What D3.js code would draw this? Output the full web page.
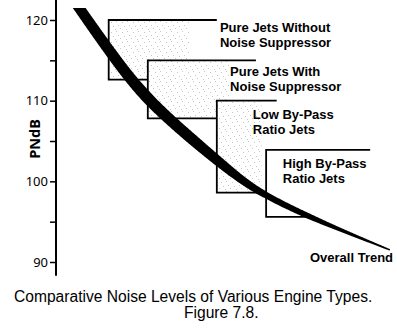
<!DOCTYPE html>
<html><head><meta charset="utf-8">
<script src="https://cdn.jsdelivr.net/npm/d3@7"></script>
<style>html,body{margin:0;padding:0;background:#fff;} svg{display:block}</style>
</head><body>
<script>
// ---------- data ----------
const yTicks = [90, 95, 100, 105, 110, 115, 120];
const yTickLabels = ["90", "", "100", "", "110", "", "120"];
const yAxisLabel = "PNdB";
const yAxisExtent = [88.3, 122.5];

const boxNames = [["Pure Jets Without", "Noise Suppressor"], ["Pure Jets With", "Noise Suppressor"], ["Low By-Pass", "Ratio Jets"], ["High By-Pass", "Ratio Jets"]];
const boxStart = [15.5, 27.0, 47.3, 61.8];
const boxTopEnd = [47.3, 58.8, 64.9, 92.4];
const boxBottomEnd = [27.0, 47.3, 61.8, 74.7];
const boxHigh = [120, 115, 110, 103.9];
const boxLow = [112.6, 107.8, 98.6, 95.6];
const boxShaded = [true, true, true, false];
const labelU = [48.2, 51.2, 57.9, 66.7];
const labelV = [118.5, 113.0, 107.7, 101.6];

const trendU = [6.8, 17.6, 26.8, 40.3, 47.4, 55.0, 61.8, 74.7, 98.2];
const trendV = [121.5, 115.0, 110.1, 105.1, 102.6, 100.0, 98.2, 95.5, 91.5];
const trendLabel = "Overall Trend";
const trendLabelPos = [74.7, 89.95];

const caption = ["Comparative Noise Levels of Various Engine Types.", "Figure 7.8."];

// ---------- drawing ----------
const W = 397, H = 330;
const svg = d3.select("body").append("svg").attr("width", W).attr("height", H);
const x = d3.scaleLinear().domain([0, 100]).range([56, 396]);
const y = d3.scaleLinear().domain([90, 120]).range([262, 20]);

const defs = svg.append("defs");
const pat = defs.append("pattern").attr("id", "stip").attr("patternUnits", "userSpaceOnUse")
  .attr("width", 11).attr("height", 10);
[[1,2],[6,1],[3,6],[8,5],[10,8],[5,9]].forEach(p => pat.append("rect").attr("x", p[0]).attr("y", p[1])
  .attr("width", 1).attr("height", 1).attr("fill", "#c6c6c6"));
defs.append("clipPath").attr("id", "topclip").append("rect")
  .attr("x", 0).attr("y", y(trendV[0])).attr("width", W).attr("height", H);

// shading
boxStart.forEach((s, i) => {
  if (!boxShaded[i]) return;
  const e = s + 0.75 * (boxTopEnd[i] - s);
  svg.append("rect").attr("x", x(s)).attr("y", y(boxHigh[i]))
    .attr("width", x(e) - x(s)).attr("height", y(boxLow[i]) - y(boxHigh[i]))
    .attr("fill", "url(#stip)");
});

// boxes
boxStart.forEach((s, i) => {
  const p = d3.path();
  p.moveTo(x(boxTopEnd[i]), y(boxHigh[i]));
  p.lineTo(x(s), y(boxHigh[i]));
  p.lineTo(x(s), y(boxLow[i]));
  p.lineTo(x(boxBottomEnd[i]), y(boxLow[i]));
  svg.append("path").attr("d", p.toString()).attr("fill", "none")
    .attr("stroke", "#000").attr("stroke-width", 1.8).attr("stroke-linejoin", "miter");
});

// trend band
const pts = trendU.map((u, i) => [x(u), y(trendV[i])]);
const d0 = [pts[0][0] - pts[1][0], pts[0][1] - pts[1][1]];
const dl = Math.hypot(d0[0], d0[1]);
const EXT = 12;
const ptsExt = [[pts[0][0] + d0[0] / dl * EXT, pts[0][1] + d0[1] / dl * EXT], ...pts];
const tmp = svg.append("path").attr("d", d3.line().curve(d3.curveBasis)(ptsExt))
  .attr("fill", "none").attr("stroke", "none");
const node = tmp.node(), L = node.getTotalLength();
const wStops = [[0, 10.5], [0.158, 11], [0.284, 11.5], [0.435, 11], [0.513, 10], [0.596, 8], [0.663, 6.5], [0.786, 5.5], [0.864, 3.8], [1, 1.5]];
const wt = d3.scaleLinear().domain(wStops.map(d => d[0])).range(wStops.map(d => d[1])).clamp(true);
const left = [], right = [];
const N = 400;
for (let k = 0; k <= N; k++) {
  const s = L * k / N;
  const P = node.getPointAtLength(s);
  const A = node.getPointAtLength(Math.max(0, s - 2)), B = node.getPointAtLength(Math.min(L, s + 2));
  let tx = B.x - A.x, ty = B.y - A.y; const tl = Math.hypot(tx, ty) || 1; tx /= tl; ty /= tl;
  const nx = -ty, ny = tx;
  const t = (s - EXT) / (L - EXT);
  const w = wt(t) / 2;
  left.push([P.x + nx * w, P.y + ny * w]);
  right.push([P.x - nx * w, P.y - ny * w]);
}
tmp.remove();
svg.append("path").attr("d", d3.line()(left.concat(right.reverse())) + "Z")
  .attr("fill", "#000").attr("clip-path", "url(#topclip)");

// axis
const axis = d3.axisLeft(y).tickValues(yTicks).tickFormat((d, i) => yTickLabels[i]).tickSize(6).tickPadding(2);
const gA = svg.append("g").attr("transform", `translate(${x(0)},0)`).call(axis);
gA.select(".domain").remove();
gA.selectAll(".tick line").attr("stroke", "#000").attr("stroke-width", 1.5);
gA.selectAll(".tick text").attr("font-family", "'Noto Sans'").attr("font-size", 13).attr("fill", "#000");
svg.append("line").attr("x1", x(0)).attr("x2", x(0)).attr("y1", y(yAxisExtent[1])).attr("y2", y(yAxisExtent[0]))
  .attr("stroke", "#000").attr("stroke-width", 2);
svg.append("text").attr("transform", `translate(40,${y(105) - 2}) rotate(-90)`).attr("text-anchor", "middle")
  .attr("font-family", "'Noto Sans'").attr("font-size", 14.5).attr("font-weight", "bold").text(yAxisLabel);

// labels
boxNames.forEach((lines, i) => {
  const t = svg.append("text").attr("font-family", "'Liberation Sans', Arial").attr("font-weight", "bold")
    .attr("font-size", 13).attr("fill", "#000");
  lines.forEach((ln, j) => t.append("tspan").attr("x", x(labelU[i])).attr("y", y(labelV[i]) + j * 15).text(ln));
});
svg.append("text").attr("x", x(trendLabelPos[0])).attr("y", y(trendLabelPos[1]))
  .attr("font-family", "'Liberation Sans', Arial").attr("font-weight", "bold").attr("font-size", 13).text(trendLabel);

// caption
svg.append("text").attr("x", 14).attr("y", 301.5).attr("font-family", "'Liberation Sans', Arial")
  .attr("font-size", 15.6).attr("fill", "#000").text(caption[0]);
svg.append("text").attr("x", 184).attr("y", 318.3).attr("font-family", "'Liberation Sans', Arial")
  .attr("font-size", 15.6).attr("fill", "#000").text(caption[1]);
</script>
</body></html>
